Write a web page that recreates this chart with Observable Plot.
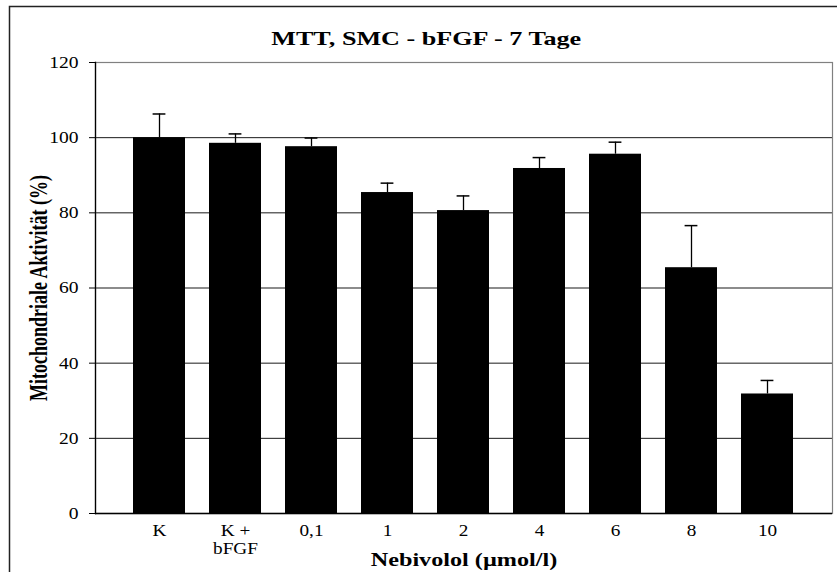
<!DOCTYPE html>
<html>
<head>
<meta charset="utf-8">
<script src="https://cdn.jsdelivr.net/npm/d3@7"></script>
<script src="https://cdn.jsdelivr.net/npm/@observablehq/plot@0.6"></script>
<style>
  body { margin: 0; background: #fff; }
  #chart { position: relative; width: 837px; height: 572px; overflow: hidden; }
</style>
</head>
<body>
<div id="chart"></div>
<script>
const categories = ["K", "K +\nbFGF", "0,1", "1", "2", "4", "6", "8", "10"];
const values = [100, 98.5, 97.6, 85.4, 80.6, 91.8, 95.6, 65.4, 31.8];
const errors = [6.3, 2.5, 2.3, 2.5, 3.9, 2.9, 3.2, 11.2, 3.6];
const yTicks = [0, 20, 40, 60, 80, 100, 120];
const gridTicks = [20, 40, 60, 80, 100];
const title = "MTT, SMC - bFGF - 7 Tage";
const xLabel = "Nebivolol (µmol/l)";
const yLabel = "Mitochondriale Aktivität (%)";

const data = categories.map((c, i) => ({cat: c, value: values[i], hi: values[i] + errors[i]}));

const chart = Plot.plot({
  width: 837,
  height: 572,
  marginLeft: 95,
  marginRight: 5,
  marginTop: 62,
  marginBottom: 59,
  style: {fontFamily: "'Liberation Serif', 'Times New Roman', serif", fontSize: "17px", color: "#000", background: "#fff", overflow: "visible"},
  x: {type: "band", domain: categories, paddingInner: 0.314, paddingOuter: 0.494, align: 0.5},
  y: {domain: [0, 120]},
  marks: [
    Plot.frame({stroke: "#222", strokeWidth: 1.5, insetLeft: -86, insetTop: -56, insetRight: -20, insetBottom: -70}),
    Plot.gridY(gridTicks, {stroke: "#000", strokeOpacity: 0.9}),
    Plot.frame({stroke: "#808080", strokeWidth: 1.2}),
    Plot.barY(data, {x: "cat", y: "value", fill: "#000"}),
    Plot.ruleX(data, {x: "cat", y1: "value", y2: "hi", stroke: "#000", strokeWidth: 1.3}),
    Plot.tickY(data, {x: "cat", y: "hi", stroke: "#000", strokeWidth: 1.5, insetLeft: 19.6, insetRight: 19.6}),
    Plot.frame({anchor: "left", stroke: "#000", strokeWidth: 1.3}),
    Plot.ruleY([0], {stroke: "#000", strokeWidth: 1.3}),
    Plot.axisY(yTicks, {tickSize: 6, tickPadding: 11, label: null, stroke: "#000"}),
    Plot.axisX({tickSize: 0, tickPadding: 9, label: null, lineHeight: 1.08}),
    Plot.text([title], {text: d => d, frameAnchor: "top", dx: -37.8, dy: -24.2, lineAnchor: "middle", textAnchor: "middle", fontWeight: "bold", fontSize: 19.5}),
    Plot.text([xLabel], {text: d => d, frameAnchor: "bottom", dy: 45.8, lineAnchor: "middle", textAnchor: "middle", fontWeight: "bold", fontSize: 19.5}),
    Plot.text([yLabel], {text: d => d, frameAnchor: "left", rotate: -90, lineAnchor: "middle", textAnchor: "middle", fontWeight: "bold", fontSize: 18})
  ]
});

document.getElementById("chart").append(chart);

function stretchEl(t, f) {
  const spans = t.querySelectorAll("tspan");
  const targets = spans.length ? Array.from(spans) : [t];
  targets.forEach(s => {
    const L = s.getComputedTextLength();
    if (L > 0) {
      s.setAttribute("textLength", (L * f).toFixed(2));
      s.setAttribute("lengthAdjust", "spacingAndGlyphs");
    }
  });
}
const allTexts = Array.from(chart.querySelectorAll("text"));
const yTickStr = yTicks.map(String);
allTexts.forEach(t => {
  const s = t.textContent;
  if (s === title) stretchEl(t, 1.34);
  else if (s === xLabel) stretchEl(t, 1.24);
  else if (s === yLabel) t.setAttribute("transform", "translate(38.7,287.5) scale(1.35,1) rotate(-90)");
  else if (yTickStr.includes(s)) stretchEl(t, 1.15);
  else stretchEl(t, 1.13);
});
</script>
</body>
</html>
